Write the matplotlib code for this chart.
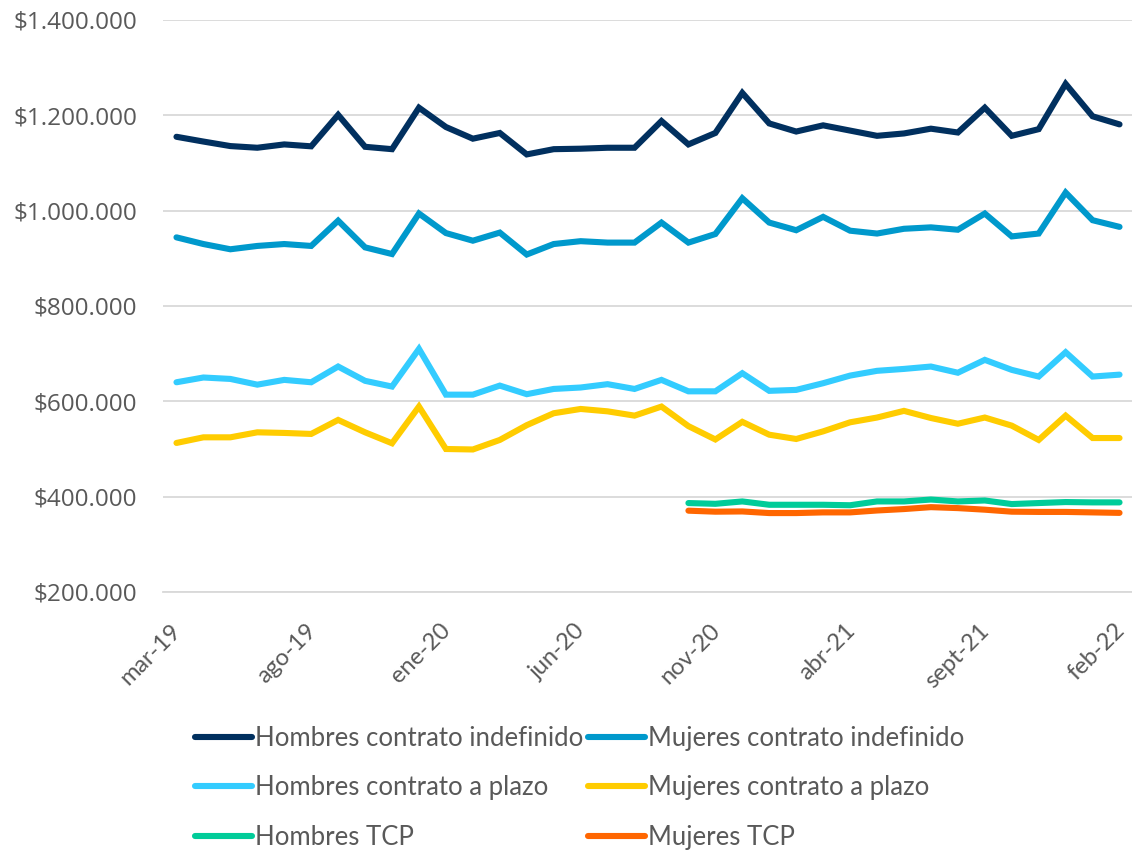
import matplotlib.pyplot as plt
import matplotlib.ticker as mticker
import matplotlib.transforms as mtransforms

# Monthly series, mar-19 .. feb-22 (36 months)
months = ["mar-19", "abr-19", "may-19", "jun-19", "jul-19", "ago-19", "sept-19", "oct-19", "nov-19", "dic-19",
          "ene-20", "feb-20", "mar-20", "abr-20", "may-20", "jun-20", "jul-20", "ago-20", "sept-20", "oct-20",
          "nov-20", "dic-20", "ene-21", "feb-21", "mar-21", "abr-21", "may-21", "jun-21", "jul-21", "ago-21",
          "sept-21", "oct-21", "nov-21", "dic-21", "ene-22", "feb-22"]

hombres_indef = [1155000, 1145000, 1135500, 1132000, 1139000, 1135000, 1201000, 1134000, 1129000, 1216000,
                 1175500, 1151000, 1163000, 1118000, 1129000, 1130000, 1132000, 1132000, 1188000, 1139000,
                 1163000, 1247000, 1183000, 1166000, 1179000, 1168000, 1157000, 1162000, 1172000, 1164000,
                 1216000, 1157000, 1171000, 1266000, 1198000, 1181000]
mujeres_indef = [944000, 930000, 919000, 926000, 930000, 926000, 979000, 923000, 909000, 994000,
                 953000, 937000, 954000, 908000, 930000, 936000, 933000, 933000, 975000, 933000,
                 951000, 1026000, 975000, 959000, 987000, 958000, 952000, 962000, 965000, 960000,
                 994000, 946000, 952000, 1038000, 980000, 966000]
hombres_plazo = [640000, 650000, 647000, 635000, 645000, 640000, 673000, 643000, 631000, 710000,
                 614000, 614000, 633000, 615000, 626000, 629000, 636000, 626000, 645000, 621000,
                 621000, 659000, 622000, 624000, 638000, 654000, 664000, 668000, 673000, 660000,
                 687000, 666000, 652000, 703000, 652000, 656000]
mujeres_plazo = [512700, 524500, 524500, 535000, 533700, 531600, 561000, 535000, 512000, 589000,
                 500000, 499000, 519000, 550000, 575000, 584000, 579000, 570000, 589000, 548000,
                 520000, 557000, 530000, 521000, 537000, 556000, 566000, 580000, 565000, 553000,
                 566000, 549000, 519000, 570000, 523000, 523000]
# TCP series start in oct-20
nan = float("nan")
hombres_tcp = [nan] * 19 + [386600, 385000, 390000, 383000, 383000, 383000, 382000, 390000, 390000, 394000,
                            390000, 392000, 384500, 386600, 388700, 388000, 388000]
mujeres_tcp = [nan] * 19 + [370600, 368500, 369000, 365600, 365600, 367000, 367000, 371000, 374000, 378000,
                            376000, 372700, 368500, 368000, 368000, 367000, 366000]

series = [
    ("Hombres contrato indefinido", hombres_indef, "#01305F"),
    ("Hombres contrato a plazo", hombres_plazo, "#33CCFF"),
    ("Hombres TCP", hombres_tcp, "#00CC99"),
    ("Mujeres contrato indefinido", mujeres_indef, "#0099CC"),
    ("Mujeres contrato a plazo", mujeres_plazo, "#FFCC00"),
    ("Mujeres TCP", mujeres_tcp, "#FF6600"),
]

fig = plt.figure(figsize=(11.32, 8.52), dpi=100)
ax = fig.add_axes([163 / 1132, 1 - 592 / 852, 970 / 1132, 572 / 852])

x = list(range(len(months)))
handles = []
for name, vals, col in series:
    h, = ax.plot(x, vals, color=col, lw=4.4, solid_capstyle="round", solid_joinstyle="miter", label=name)
    handles.append(h)

ax.set_xlim(-0.5, len(months) - 0.5)
ax.set_ylim(200000, 1400000)
ax.set_yticks(range(200000, 1400001, 200000))
ax.yaxis.set_major_formatter(mticker.FuncFormatter(lambda v, p: "$" + f"{v:,.0f}".replace(",", ".")))
ax.grid(axis="y", color="#D9D9D9", lw=1.3)
ax.set_axisbelow(True)
for s in ["top", "right", "left"]:
    ax.spines[s].set_visible(False)
ax.spines["bottom"].set_color("#D9D9D9")
ax.spines["bottom"].set_linewidth(1.3)
ax.tick_params(axis="y", length=0, pad=18.5, labelsize=17.5, labelcolor="#595959")
ax.tick_params(axis="x", length=0, pad=20, labelcolor="#595959")
for lab in ax.get_yticklabels():
    lab.set_fontfamily("Open Sans")

ax.set_xticks(x[::5])
ax.set_xticklabels(months[::5], rotation=45, ha="right", rotation_mode="anchor",
                   fontsize=17, fontfamily="Lato")
# nudge all x labels a little left so the last one stays inside the figure
shift = mtransforms.ScaledTranslation(-6 / 100, 0, fig.dpi_scale_trans)
for lab in ax.get_xticklabels():
    lab.set_transform(lab.get_transform() + shift)

leg = fig.legend(handles=handles, ncol=2, loc="upper left", bbox_to_anchor=(195 / 1132, 1 - 726 / 852),
                 frameon=False, prop={"family": "Lato", "size": 18.5}, labelcolor="#595959",
                 handlelength=2.2, handletextpad=0.12, columnspacing=0.2, labelspacing=0.95,
                 borderpad=0, borderaxespad=0)

fig.savefig("out.png", dpi=100)
